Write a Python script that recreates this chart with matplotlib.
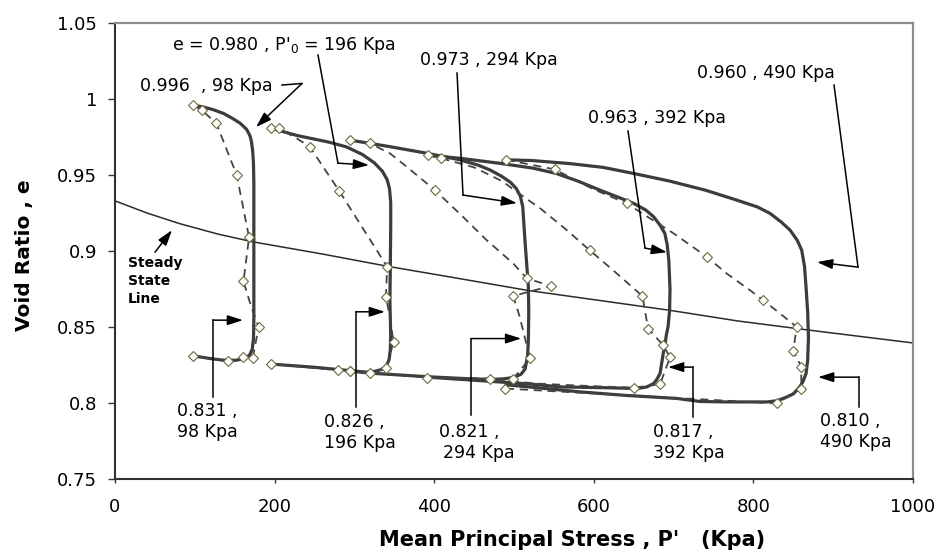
import matplotlib
matplotlib.use("Agg")
import matplotlib.pyplot as plt
from matplotlib.ticker import FuncFormatter, MultipleLocator

plt.rcParams["font.family"] = ["DejaVu Sans"]

# steady state line
ssl_p = [0, 40, 81, 130, 173, 260, 341, 430, 518, 600, 695, 780, 869, 1000]
ssl_e = [0.933, 0.925, 0.918, 0.911, 0.906, 0.898, 0.890, 0.882, 0.874, 0.868,
         0.861, 0.854, 0.848, 0.8395]

# solid stress paths
p98 = [98, 110, 123, 136, 148, 157, 165, 169, 171, 172.5, 173.5, 174, 174, 174,
       174, 173.5, 172, 169, 163, 150, 135, 120, 98]
e98 = [0.996, 0.9948, 0.993, 0.9905, 0.987, 0.984, 0.980, 0.976, 0.972, 0.966,
       0.958, 0.945, 0.92, 0.88, 0.855, 0.842, 0.8355, 0.8318, 0.8292, 0.8280,
       0.8282, 0.8292, 0.831]

p196 = [196, 228, 269, 290, 310, 325, 335, 341, 344, 345.5, 345.5, 345, 344.5,
        345.5, 345, 343.5, 340, 334, 325, 315, 290, 250, 196]
e196 = [0.9807, 0.976, 0.9715, 0.9685, 0.9635, 0.958, 0.9525, 0.947, 0.941,
        0.932, 0.915, 0.889, 0.867, 0.845, 0.835, 0.8285, 0.8245, 0.822, 0.8208,
        0.8203, 0.8215, 0.8235, 0.8256]

p294 = [294, 345, 391, 432, 455, 470, 485, 496, 503, 508, 511, 514, 518, 518.5,
        518, 517, 514, 509, 500, 485, 470, 449, 391, 324, 294]
e294 = [0.973, 0.9686, 0.9643, 0.960, 0.9565, 0.9533, 0.949, 0.945, 0.941,
        0.936, 0.929, 0.905, 0.8765, 0.860, 0.8414, 0.831, 0.8225, 0.819, 0.8168,
        0.8158, 0.8155, 0.8158, 0.8173, 0.8195, 0.821]

p392 = [392, 432, 482, 524, 553, 580, 608, 630, 650, 665, 675, 683, 689, 692,
        694, 695.5, 695, 693, 691, 689, 687, 683, 679, 675, 666, 654, 620, 558,
        520, 449, 392]
e392 = [0.963, 0.961, 0.9577, 0.9545, 0.951, 0.946, 0.940, 0.9355, 0.9313,
        0.927, 0.9225, 0.917, 0.9116, 0.904, 0.894, 0.875, 0.861, 0.850, 0.845,
        0.838, 0.8326, 0.8194, 0.8155, 0.8128, 0.8105, 0.8095, 0.810, 0.8106,
        0.8125, 0.815, 0.817]

p490 = [490, 523, 570, 612, 650, 695, 740, 779, 805, 821, 835, 846, 855, 860.5,
        864, 866, 868, 869, 868, 866, 862, 858, 850, 842, 830, 817, 766, 733,
        704, 640, 583, 530, 490]
e490 = [0.960, 0.9595, 0.9575, 0.955, 0.951, 0.946, 0.940, 0.9335, 0.929,
        0.9247, 0.919, 0.9137, 0.907, 0.9006, 0.890, 0.876, 0.860, 0.8435, 0.828,
        0.8194, 0.814, 0.8106, 0.806, 0.804, 0.8015, 0.8007, 0.8007, 0.801, 0.803,
        0.805, 0.8073, 0.810, 0.812]

# dashed paths with diamond points
dp98 = [98, 108.6, 127, 152.5, 168, 161, 165, 171, 180, 172.5, 161, 141, 98]
de98 = [0.996, 0.9927, 0.984, 0.950, 0.909, 0.880, 0.873, 0.863, 0.850, 0.8294,
        0.830, 0.8278, 0.831]
dm98 = [0, 1, 2, 3, 4, 5, 8, 9, 10, 11, 12]

dp196 = [196, 205, 228, 244, 281, 341, 339.6, 345, 349, 339.6, 319.5, 294.5,
         279, 196]
de196 = [0.9807, 0.9807, 0.974, 0.9686, 0.9395, 0.8897, 0.870, 0.855, 0.8399,
         0.8227, 0.8198, 0.8209, 0.8216, 0.8256]
dm196 = [0, 1, 3, 4, 5, 6, 8, 9, 10, 11, 12, 13]

dp294 = [294, 319.5, 344.6, 365.6, 401, 436, 465.8, 499, 516, 546, 499, 507,
         520, 499, 470, 390.6, 294]
de294 = [0.973, 0.9708, 0.9642, 0.9554, 0.940, 0.9225, 0.9071, 0.8918, 0.882,
         0.877, 0.8704, 0.857, 0.8293, 0.816, 0.816, 0.8167, 0.821]
dm294 = [0, 1, 4, 8, 9, 10, 12, 13, 14, 15, 16]

dp392 = [392, 409, 450, 485, 512, 533, 566, 595, 624.5, 661, 668, 687, 695.5,
         683, 650, 580, 527, 470, 392]
de392 = [0.963, 0.961, 0.955, 0.946, 0.9357, 0.928, 0.9138, 0.9004, 0.8872,
         0.8703, 0.849, 0.838, 0.830, 0.8124, 0.810, 0.8115, 0.8128, 0.816, 0.817]
dm392 = [0, 1, 7, 9, 10, 11, 12, 13, 14]

dp490 = [490, 551, 598, 641, 700, 741.5, 766.5, 795.7, 812.4, 833.3, 854.2, 850,
         860, 860, 829, 489]
de490 = [0.960, 0.9537, 0.941, 0.9313, 0.9116, 0.8962, 0.8852, 0.8742, 0.8676,
         0.8589, 0.850, 0.8343, 0.8238, 0.8095, 0.7997, 0.8095]
dm490 = [0, 1, 3, 5, 8, 10, 11, 12, 13, 14, 15]

solid = [(p98, e98), (p196, e196), (p294, e294), (p392, e392), (p490, e490)]
dashed = [(dp98, de98, dm98), (dp196, de196, dm196), (dp294, de294, dm294),
          (dp392, de392, dm392), (dp490, de490, dm490)]

# callouts: text lines with anchor, then pointer path ending at arrow tip
callouts = [
    (["0.996  , 98 Kpa"], (31.3, 1.0055),
     [(209.3, 1.0092), (234.3, 1.0102), (176.7, 0.9815)]),
    (["e = 0.980 , P'$_0$ = 196 Kpa"], (71.4, 1.0322),
     [(254.4, 1.0289), (279.4, 0.9578), (318.3, 0.9565)]),
    (["0.973 , 294 Kpa"], (382, 1.0224),
     [(428.6, 1.0171), (436.1, 0.9368), (503.8, 0.9315)]),
    (["0.963 , 392 Kpa"], (592.7, 0.9842),
     [(642.9, 0.9789), (664.2, 0.9019), (691.7, 0.8992)]),
    (["0.960 , 490 Kpa"], (729, 1.0138),
     [(901, 1.0092), (931.1, 0.8894), (879.7, 0.8927)]),
    (["0.831 ,", "98 Kpa"], (77.7, 0.7913),
     [(122.8, 0.8038), (122.8, 0.8545), (160.4, 0.8545)]),
    (["0.826 ,", "196 Kpa"], (262, 0.7842),
     [(302, 0.7972), (302, 0.860), (338.3, 0.860)]),
    (["0.821 ,", " 294 Kpa"], (406, 0.7777),
     [(446, 0.792), (446, 0.8424), (509, 0.8424)]),
    (["0.817 ,", "392 Kpa"], (674, 0.7777),
     [(724, 0.7906), (724, 0.8236), (693, 0.8236)]),
    (["0.810 ,", "490 Kpa"], (883.5, 0.7847),
     [(932, 0.7972), (932, 0.817), (881, 0.817)]),
]

fig = plt.figure(figsize=(9.39, 5.54), dpi=100)
ax = fig.add_axes([115 / 939, 1 - 479 / 554, 798 / 939, 456 / 554])

ax.plot(ssl_p, ssl_e, color="#2b2b2b", lw=1.1, zorder=2)
for p, e in solid:
    ax.plot(p, e, color="#3c3c3c", lw=2.3, solid_joinstyle="round",
            solid_capstyle="round", zorder=3)
for p, e, m in dashed:
    ax.plot(p, e, color="#444444", lw=1.3, dashes=(4.5, 3.2), zorder=4)
    ax.plot([p[i] for i in m], [e[i] for i in m], ls="none", marker="D", ms=4.6,
            mfc="white", mec="#6d6a3f", mew=0.8, zorder=5)

arrow = dict(arrowstyle="-|>,head_length=0.47,head_width=0.15", color="black",
             lw=1.1, shrinkA=0, shrinkB=0, mutation_scale=20)
for lines, (tx, ty), path in callouts:
    for k, s in enumerate(lines):
        dy = 0.0138 if len(lines) > 1 else 0
        x0 = tx + (5 if s.startswith(" ") else 0)
        ax.text(x0, ty - k * dy, s.strip(), fontsize=12.5, ha="left",
                va="baseline", zorder=6)
    xs = [q[0] for q in path]
    ys = [q[1] for q in path]
    ax.plot(xs[:-1], ys[:-1], color="black", lw=1.1, zorder=6)
    ax.annotate("", xy=path[-1], xytext=path[-2], arrowprops=arrow, zorder=6)

for k, s in enumerate(["Steady", "State", "Line"]):
    ax.text(16.3, 0.8894 - k * 0.0119, s, fontsize=10, fontweight="bold",
            ha="left", va="baseline")
ax.annotate("", xy=(71.4, 0.9137), xytext=(50.1, 0.8992), arrowprops=arrow)

ax.set_xlim(0, 1000)
ax.set_ylim(0.75, 1.05)
ax.xaxis.set_major_locator(MultipleLocator(200))
ax.yaxis.set_major_locator(MultipleLocator(0.05))
ax.yaxis.set_major_formatter(FuncFormatter(lambda v, _: "%g" % round(v, 2)))
ax.tick_params(axis="x", direction="out", length=3, width=1, pad=11,
               labelsize=13, color="#333333")
ax.tick_params(axis="y", direction="out", length=5, width=1, pad=8,
               labelsize=13, color="#333333")

for side in ("left", "bottom"):
    ax.spines[side].set_color("#303030")
    ax.spines[side].set_linewidth(1.5)
for side in ("top", "right"):
    ax.spines[side].set_color("#8c8c8c")
    ax.spines[side].set_linewidth(1.6)

ax.set_xlabel("Mean Principal Stress , P'   (Kpa)", fontsize=15,
              fontweight="bold")
ax.set_ylabel("Void Ratio , e", fontsize=14.5, fontweight="bold")
ax.xaxis.set_label_coords(0.573, -0.112)
ax.yaxis.set_label_coords(-0.1015, 0.491)

fig.savefig("out.png", dpi=100)
